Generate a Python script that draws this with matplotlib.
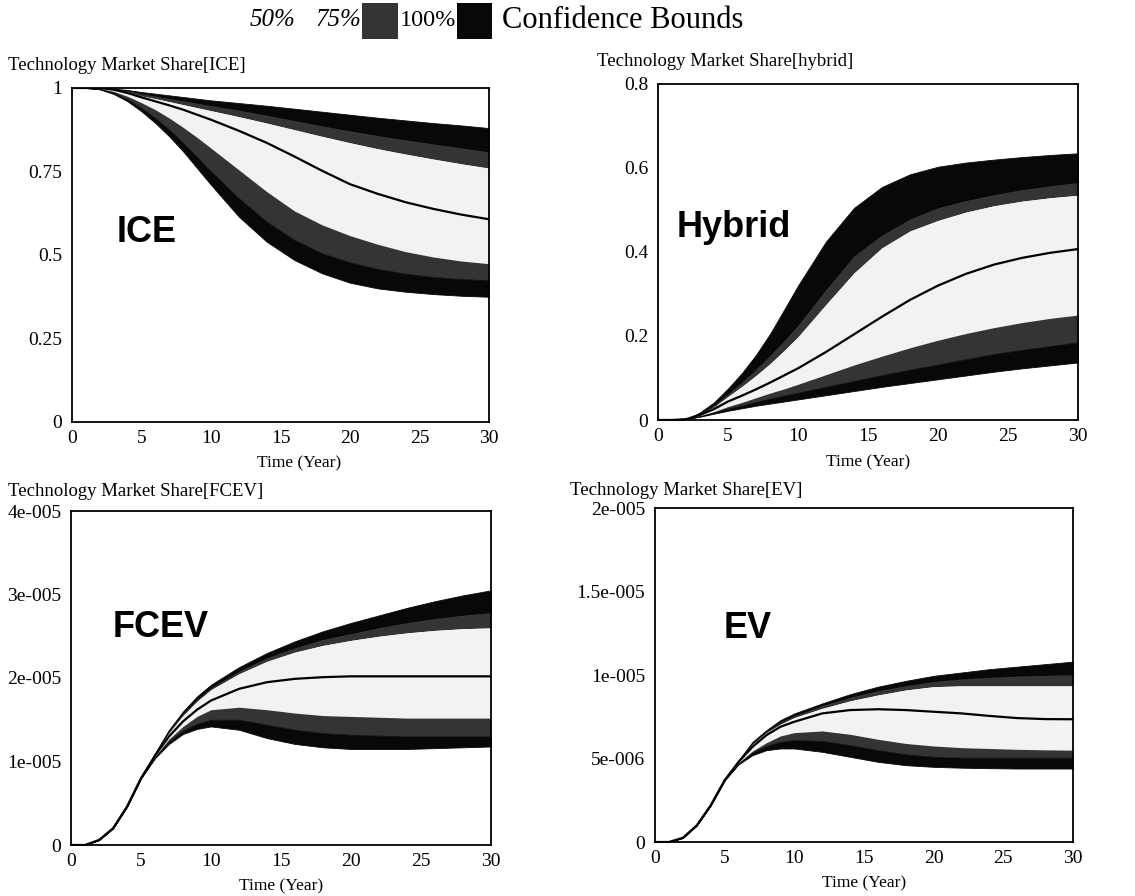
import matplotlib
matplotlib.use("Agg")
import matplotlib.pyplot as plt
from matplotlib.patches import Rectangle

# Simulation time (years)
time = [0, 1, 2, 3, 4, 5, 6, 7, 8, 9, 10, 12, 14, 16, 18, 20, 22, 24, 26, 28, 30]

# ICE market share: confidence bounds and median
ice_u100 = [1, 1, 1, 0.998, 0.994, 0.988, 0.983, 0.978, 0.973, 0.968, 0.963, 0.955, 0.947, 0.938, 0.929, 0.92, 0.911, 0.903, 0.895, 0.888, 0.88]
ice_u75 = [1, 1, 1, 0.997, 0.991, 0.982, 0.975, 0.968, 0.961, 0.954, 0.947, 0.933, 0.918, 0.902, 0.886, 0.871, 0.857, 0.844, 0.832, 0.82, 0.808]
ice_u50 = [1, 1, 1, 0.996, 0.988, 0.976, 0.968, 0.959, 0.95, 0.941, 0.932, 0.914, 0.895, 0.875, 0.855, 0.836, 0.818, 0.802, 0.787, 0.773, 0.76]
ice_med = [1, 1, 1, 0.995, 0.985, 0.972, 0.96, 0.948, 0.935, 0.92, 0.905, 0.872, 0.836, 0.795, 0.752, 0.712, 0.683, 0.658, 0.638, 0.621, 0.607]
ice_l50 = [1, 1, 0.998, 0.99, 0.975, 0.956, 0.935, 0.91, 0.882, 0.852, 0.82, 0.755, 0.69, 0.632, 0.59, 0.558, 0.532, 0.51, 0.494, 0.482, 0.474]
ice_l75 = [1, 1, 0.997, 0.986, 0.966, 0.94, 0.91, 0.875, 0.835, 0.793, 0.75, 0.67, 0.6, 0.545, 0.505, 0.478, 0.458, 0.444, 0.434, 0.428, 0.424]
ice_l100 = [1, 1, 0.996, 0.982, 0.96, 0.93, 0.895, 0.855, 0.81, 0.76, 0.71, 0.615, 0.54, 0.485, 0.445, 0.417, 0.4, 0.39, 0.383, 0.378, 0.375]

# Hybrid market share
hyb_u100 = [0, 0, 0.002, 0.018, 0.042, 0.075, 0.112, 0.155, 0.205, 0.262, 0.32, 0.425, 0.505, 0.555, 0.585, 0.603, 0.613, 0.62, 0.626, 0.631, 0.635]
hyb_u75 = [0, 0, 0.002, 0.015, 0.034, 0.062, 0.09, 0.12, 0.153, 0.188, 0.225, 0.31, 0.39, 0.44, 0.478, 0.505, 0.522, 0.536, 0.548, 0.557, 0.565]
hyb_u50 = [0, 0, 0.002, 0.014, 0.031, 0.056, 0.08, 0.106, 0.134, 0.165, 0.198, 0.275, 0.35, 0.41, 0.45, 0.475, 0.495, 0.51, 0.521, 0.529, 0.535]
hyb_med = [0, 0, 0.002, 0.012, 0.026, 0.044, 0.058, 0.073, 0.089, 0.106, 0.123, 0.162, 0.204, 0.246, 0.286, 0.32, 0.348, 0.37, 0.386, 0.398, 0.407]
hyb_l50 = [0, 0, 0.002, 0.01, 0.02, 0.032, 0.042, 0.053, 0.064, 0.074, 0.085, 0.108, 0.131, 0.152, 0.172, 0.19, 0.206, 0.22, 0.232, 0.242, 0.25]
hyb_l75 = [0, 0, 0.002, 0.009, 0.018, 0.027, 0.035, 0.043, 0.051, 0.058, 0.065, 0.079, 0.093, 0.107, 0.12, 0.132, 0.145, 0.157, 0.167, 0.176, 0.185]
hyb_l100 = [0, 0, 0.002, 0.008, 0.015, 0.022, 0.028, 0.034, 0.039, 0.044, 0.049, 0.059, 0.069, 0.079, 0.088, 0.097, 0.106, 0.115, 0.123, 0.13, 0.137]

# FCEV market share (x 1e-5)
fcev_u100 = [0, 0, 0.06, 0.2, 0.46, 0.8, 1.1, 1.38, 1.6, 1.78, 1.92, 2.13, 2.3, 2.44, 2.56, 2.66, 2.75, 2.84, 2.92, 2.99, 3.05]
fcev_u75 = [0, 0, 0.06, 0.2, 0.46, 0.8, 1.09, 1.36, 1.57, 1.74, 1.88, 2.08, 2.24, 2.36, 2.46, 2.53, 2.6, 2.66, 2.71, 2.75, 2.78]
fcev_u50 = [0, 0, 0.06, 0.2, 0.46, 0.8, 1.08, 1.34, 1.55, 1.72, 1.86, 2.05, 2.2, 2.31, 2.39, 2.45, 2.5, 2.54, 2.57, 2.59, 2.6]
fcev_med = [0, 0, 0.06, 0.2, 0.46, 0.8, 1.07, 1.3, 1.48, 1.62, 1.73, 1.87, 1.95, 1.99, 2.01, 2.02, 2.02, 2.02, 2.02, 2.02, 2.02]
fcev_l50 = [0, 0, 0.06, 0.2, 0.46, 0.8, 1.06, 1.27, 1.42, 1.54, 1.62, 1.65, 1.62, 1.58, 1.55, 1.54, 1.53, 1.52, 1.52, 1.52, 1.52]
fcev_l75 = [0, 0, 0.06, 0.2, 0.46, 0.8, 1.05, 1.24, 1.37, 1.45, 1.5, 1.5, 1.44, 1.38, 1.34, 1.32, 1.31, 1.3, 1.3, 1.3, 1.3]
fcev_l100 = [0, 0, 0.06, 0.2, 0.46, 0.8, 1.04, 1.21, 1.33, 1.39, 1.42, 1.38, 1.28, 1.21, 1.17, 1.15, 1.15, 1.15, 1.16, 1.17, 1.18]

# EV market share (x 1e-6)
ev_u100 = [0, 0, 0.25, 1.0, 2.2, 3.7, 4.9, 6.0, 6.7, 7.3, 7.7, 8.3, 8.85, 9.3, 9.65, 9.95, 10.15, 10.35, 10.5, 10.65, 10.8]
ev_u75 = [0, 0, 0.25, 1.0, 2.2, 3.7, 4.85, 5.9, 6.6, 7.15, 7.55, 8.15, 8.65, 9.05, 9.35, 9.6, 9.75, 9.85, 9.92, 9.97, 10.0]
ev_u50 = [0, 0, 0.25, 1.0, 2.2, 3.7, 4.85, 5.85, 6.55, 7.05, 7.45, 8.0, 8.45, 8.8, 9.1, 9.3, 9.35, 9.35, 9.35, 9.35, 9.35]
ev_med = [0, 0, 0.25, 1.0, 2.2, 3.7, 4.8, 5.7, 6.4, 6.9, 7.2, 7.7, 7.9, 7.95, 7.9, 7.8, 7.7, 7.55, 7.42, 7.36, 7.35]
ev_l50 = [0, 0, 0.25, 1.0, 2.2, 3.7, 4.75, 5.45, 5.95, 6.35, 6.55, 6.65, 6.45, 6.15, 5.9, 5.75, 5.65, 5.6, 5.55, 5.52, 5.5]
ev_l75 = [0, 0, 0.25, 1.0, 2.2, 3.7, 4.7, 5.35, 5.75, 6.0, 6.1, 6.05, 5.8, 5.5, 5.25, 5.1, 5.05, 5.05, 5.05, 5.05, 5.05]
ev_l100 = [0, 0, 0.25, 1.0, 2.2, 3.7, 4.65, 5.2, 5.5, 5.6, 5.6, 5.4, 5.1, 4.8, 4.6, 4.5, 4.45, 4.42, 4.4, 4.4, 4.4]

# Axis ticks and labels
x_ticks = [0, 5, 10, 15, 20, 25, 30]
ice_yticks = [0, 0.25, 0.5, 0.75, 1]
ice_ylabels = ["0", "0.25", "0.5", "0.75", "1"]
hyb_yticks = [0, 0.2, 0.4, 0.6, 0.8]
hyb_ylabels = ["0", "0.2", "0.4", "0.6", "0.8"]
fcev_yticks = [0, 1e-5, 2e-5, 3e-5, 4e-5]
fcev_ylabels = ["0", "1e-005", "2e-005", "3e-005", "4e-005"]
ev_yticks = [0, 5e-6, 1e-5, 1.5e-5, 2e-5]
ev_ylabels = ["0", "5e-006", "1e-005", "1.5e-005", "2e-005"]

titles = ["Technology Market Share[ICE]", "Technology Market Share[hybrid]",
          "Technology Market Share[FCEV]", "Technology Market Share[EV]"]
names = ["ICE", "Hybrid", "FCEV", "EV"]
legend_labels = ["50%", "75%", "100%"]

# Band colours: 50 % (light), 75 % (stipple grey), 100 % (black)
C50, C75, C100 = "#f2f2f2", "#343434", "#080808"

SERIF = ["Liberation Serif", "DejaVu Serif"]
SANS = ["Liberation Sans", "DejaVu Sans"]

fig = plt.figure(figsize=(11.35, 8.96), dpi=100)
W, H = 1135.0, 896.0


def rect(x0, y0, x1, y1):
    return [x0 / W, 1 - y1 / H, (x1 - x0) / W, (y1 - y0) / H]


panels = [
    dict(box=(72, 88, 489, 422), scale=1.0,
         bands=(ice_u100, ice_u75, ice_u50, ice_med, ice_l50, ice_l75, ice_l100),
         yt=ice_yticks, yl=ice_ylabels, ylim=(0, 1), xlab=0.545,
         title_xy=(8, 65), name_xy=(0.108, 0.566)),
    dict(box=(658, 84, 1078, 420), scale=1.0,
         bands=(hyb_u100, hyb_u75, hyb_u50, hyb_med, hyb_l50, hyb_l75, hyb_l100),
         yt=hyb_yticks, yl=hyb_ylabels, ylim=(0, 0.8), xlab=0.5,
         title_xy=(597, 62), name_xy=(0.045, 0.574)),
    dict(box=(71, 511, 491, 845), scale=1e-5,
         bands=(fcev_u100, fcev_u75, fcev_u50, fcev_med, fcev_l50, fcev_l75, fcev_l100),
         yt=fcev_yticks, yl=fcev_ylabels, ylim=(0, 4e-5), xlab=0.5,
         title_xy=(8, 491), name_xy=(0.098, 0.65)),
    dict(box=(655, 508, 1073, 842), scale=1e-6,
         bands=(ev_u100, ev_u75, ev_u50, ev_med, ev_l50, ev_l75, ev_l100),
         yt=ev_yticks, yl=ev_ylabels, ylim=(0, 2e-5), xlab=0.5,
         title_xy=(570, 490), name_xy=(0.163, 0.64)),
]

for p, title, name in zip(panels, titles, names):
    ax = fig.add_axes(rect(*p["box"]))
    s = p["scale"]
    u100, u75, u50, med, l50, l75, l100 = [[v * s for v in arr] for arr in p["bands"]]

    ax.fill_between(time, u75, u100, color=C100, lw=0.6, ec=C100)
    ax.fill_between(time, u50, u75, color=C75, lw=0)
    ax.fill_between(time, l50, u50, color=C50, lw=0)
    ax.fill_between(time, l75, l50, color=C75, lw=0)
    ax.fill_between(time, l100, l75, color=C100, lw=0.6, ec=C100)
    ax.plot(time, med, color="black", lw=1.6)

    ax.set_xlim(0, 30)
    ax.set_ylim(*p["ylim"])
    ax.set_xticks(x_ticks)
    ax.set_xticklabels([str(t) for t in x_ticks], family=SERIF, fontsize=14)
    ax.set_yticks(p["yt"])
    ax.set_yticklabels(p["yl"], family=SERIF, fontsize=14)
    ax.tick_params(axis="both", length=0)
    ax.tick_params(axis="x", pad=6)
    ax.tick_params(axis="y", pad=7)
    for sp in ax.spines.values():
        sp.set_linewidth(1.3)
        sp.set_color("black")

    ax.text(p["xlab"], -0.125, "Time (Year)", transform=ax.transAxes, ha="center",
            va="center", family=SERIF, fontsize=12.5)
    ax.text(p["name_xy"][0], p["name_xy"][1], name, transform=ax.transAxes,
            ha="left", va="center", family=SANS, fontsize=26, fontweight="bold")

    tx, ty = p["title_xy"]
    fig.text(tx / W, 1 - ty / H, title, ha="left", va="center",
             family=SERIF, fontsize=13.5)

# Legend strip across the top
ly = 1 - 20 / H
fig.text(250 / W, ly, legend_labels[0], ha="left", va="center", family=SERIF,
         fontsize=18, style="italic")
fig.text(316 / W, ly, legend_labels[1], ha="left", va="center", family=SERIF,
         fontsize=18, style="italic")
fig.patches.append(Rectangle((362 / W, 1 - 39 / H), 36 / W, 36 / H,
                             transform=fig.transFigure, facecolor=C75, edgecolor="none"))
fig.text(400 / W, ly, legend_labels[2], ha="left", va="center", family=SERIF, fontsize=17.5)
fig.patches.append(Rectangle((457 / W, 1 - 39 / H), 35 / W, 36 / H,
                             transform=fig.transFigure, facecolor=C100, edgecolor="none"))
fig.text(502 / W, ly, "Confidence Bounds", ha="left", va="center", family=SERIF,
         fontsize=22)

fig.savefig("out.png", dpi=100)
